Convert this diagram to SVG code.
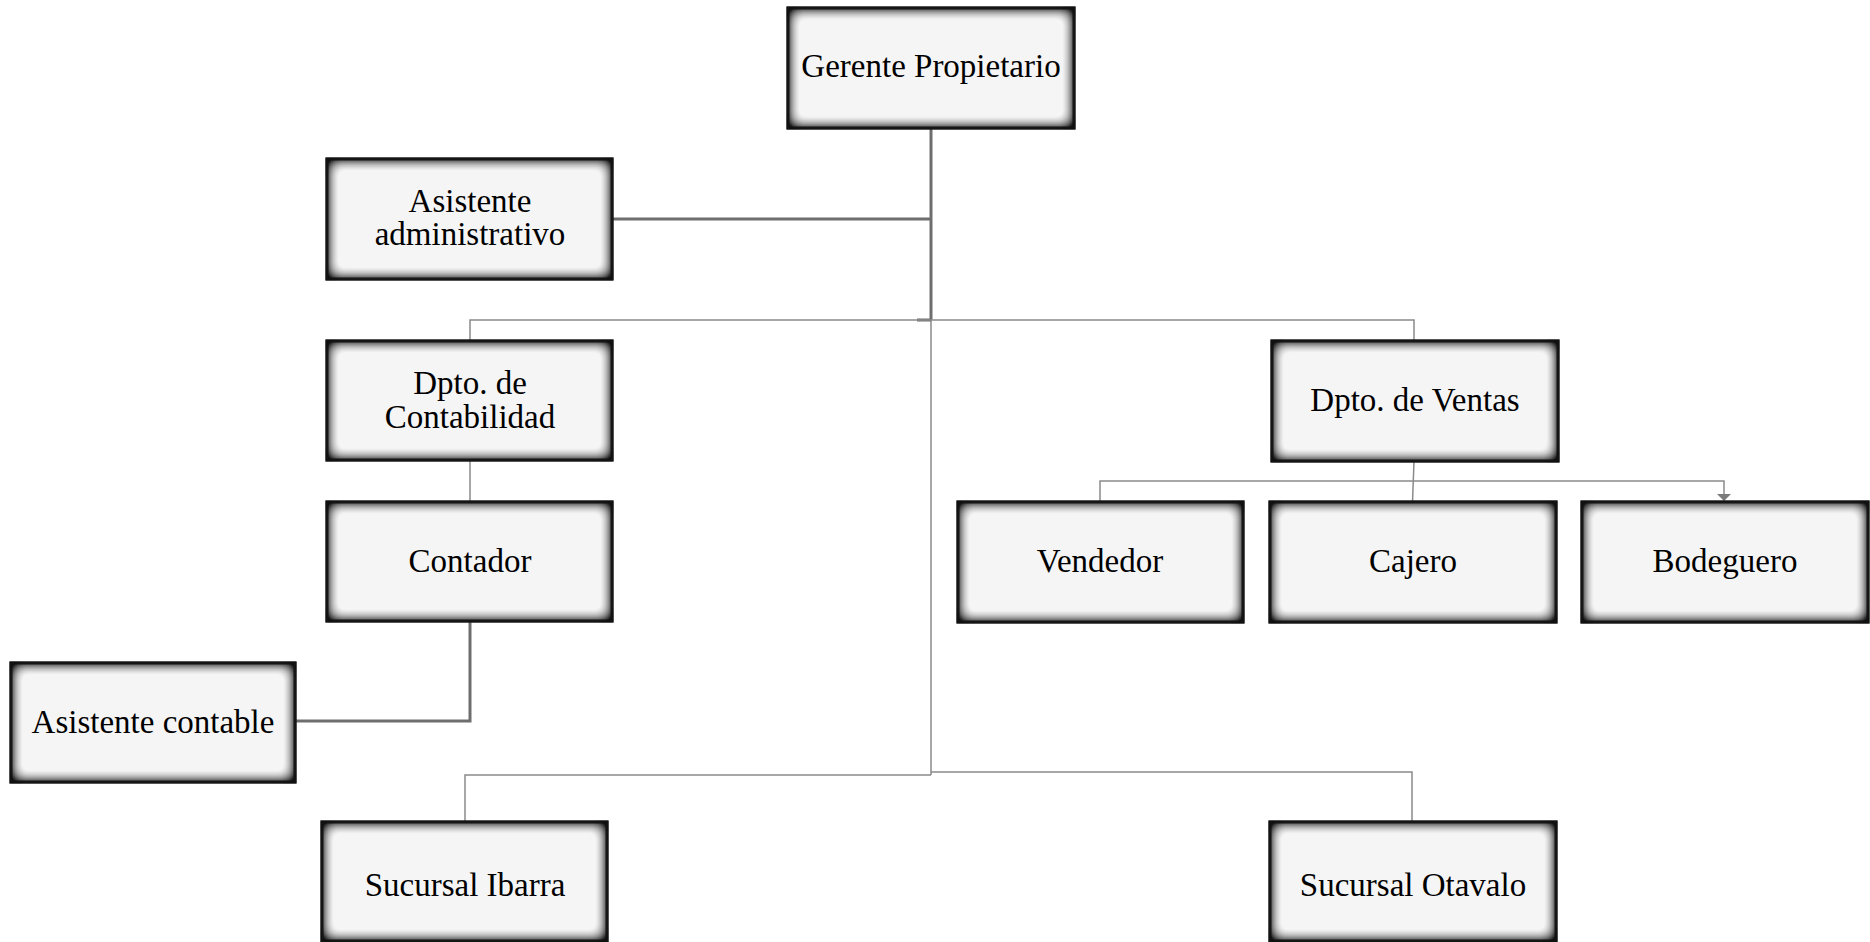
<svg xmlns="http://www.w3.org/2000/svg" width="1870" height="942" viewBox="0 0 1870 942">
  <defs>
    <style>
      .box { fill: #f5f5f5; stroke: #262626; stroke-width: 3; filter: url(#inset); }
      .lbl { font-family: "Liberation Serif", "Times New Roman", serif; font-size: 33px; fill: #000; text-anchor: middle; }
      .thick { fill: none; stroke: #6e6e6e; stroke-width: 3; }
      .thin { fill: none; stroke: #8a8a8a; stroke-width: 1.5; }
    </style>
    <!-- soft dark vignette along the inside edges of each box -->
    <filter id="inset" x="-20%" y="-40%" width="140%" height="180%" color-interpolation-filters="sRGB">
      <feFlood flood-color="#111111" result="f"/>
      <feComposite in="f" in2="SourceAlpha" operator="out" result="outside"/>
      <feGaussianBlur in="outside" stdDeviation="8" result="blur"/>
      <feComponentTransfer in="blur" result="boost">
        <feFuncA type="linear" slope="2" intercept="-0.08"/>
      </feComponentTransfer>
      <feComposite in="boost" in2="SourceAlpha" operator="in" result="inner"/>
      <feMerge>
        <feMergeNode in="SourceGraphic"/>
        <feMergeNode in="inner"/>
      </feMerge>
    </filter>
    <marker id="arrow" markerWidth="7" markerHeight="14" refX="7" refY="7" orient="auto" markerUnits="userSpaceOnUse" viewBox="0 0 7 14">
      <path d="M0,0 L7,7 L0,14 Z" fill="#7a7a7a"/>
    </marker>
  </defs>

  <rect width="1870" height="942" fill="#ffffff"/>

  <g id="connectors">
    <!-- main trunk from the owner -->
    <path class="thick" d="M931,128 V320"/>
    <path class="thin" d="M931,320 V775"/>
    <path class="thick" d="M612,219 H931"/>
    <path class="thick" d="M917,320 H931"/>
    <!-- department branch -->
    <path class="thin" d="M470,341 V320 H1414 V341"/>
    <path class="thin" d="M470,460 V502"/>
    <path class="thick" d="M470,621 V721 H295"/>
    <!-- sales team -->
    <path class="thin" d="M1414,461 L1412.5,502"/>
    <path class="thin" d="M1100,502 V481 H1724 V501" marker-end="url(#arrow)"/>
    <!-- branch offices -->
    <path class="thin" d="M465,822 V775 H931"/>
    <path class="thin" d="M931,772 H1412 V822"/>
  </g>

  <g id="gerente">
    <rect class="box" x="788" y="8" width="286" height="120"/>
    <text class="lbl" x="931" y="77">Gerente Propietario</text>
  </g>

  <g id="asistente-administrativo">
    <rect class="box" x="327" y="159" width="285" height="120"/>
    <text class="lbl" x="470" y="212">Asistente</text>
    <text class="lbl" x="470" y="245">administrativo</text>
  </g>

  <g id="dpto-contabilidad">
    <rect class="box" x="327" y="341" width="285" height="119"/>
    <text class="lbl" x="470" y="394">Dpto. de</text>
    <text class="lbl" x="470" y="428">Contabilidad</text>
  </g>

  <g id="contador">
    <rect class="box" x="327" y="502" width="285" height="119"/>
    <text class="lbl" x="470" y="572">Contador</text>
  </g>

  <g id="asistente-contable">
    <rect class="box" x="11" y="663" width="284" height="119"/>
    <text class="lbl" x="153" y="733">Asistente contable</text>
  </g>

  <g id="dpto-ventas">
    <rect class="box" x="1272" y="341" width="286" height="120"/>
    <text class="lbl" x="1415" y="411">Dpto. de Ventas</text>
  </g>

  <g id="vendedor">
    <rect class="box" x="958" y="502" width="285" height="120"/>
    <text class="lbl" x="1100" y="572">Vendedor</text>
  </g>

  <g id="cajero">
    <rect class="box" x="1270" y="502" width="286" height="120"/>
    <text class="lbl" x="1413" y="572">Cajero</text>
  </g>

  <g id="bodeguero">
    <rect class="box" x="1582" y="502" width="286" height="120"/>
    <text class="lbl" x="1725" y="572">Bodeguero</text>
  </g>

  <g id="sucursal-ibarra">
    <rect class="box" x="322" y="822" width="285" height="119"/>
    <text class="lbl" x="465" y="896">Sucursal Ibarra</text>
  </g>

  <g id="sucursal-otavalo">
    <rect class="box" x="1270" y="822" width="286" height="119"/>
    <text class="lbl" x="1413" y="896">Sucursal Otavalo</text>
  </g>
</svg>
